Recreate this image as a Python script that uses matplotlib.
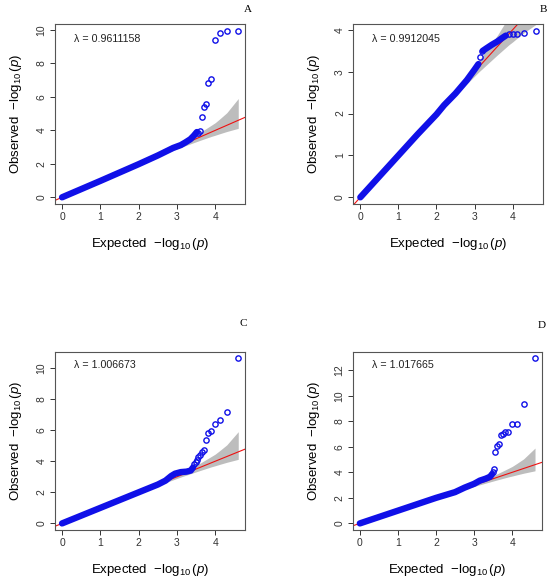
import numpy as np
import matplotlib
matplotlib.use("Agg")
import matplotlib.pyplot as plt

plt.rcParams['font.family'] = ['Liberation Sans', 'DejaVu Sans']
plt.rcParams['mathtext.fontset'] = 'custom'
plt.rcParams['mathtext.rm'] = 'Liberation Sans'
plt.rcParams['mathtext.it'] = 'Liberation Sans:italic'

# Valores leidos del grafico (esperado vs observado, -log10 p)
# parte densa de cada panel (se dibuja como banda continua)
a_line_x = [0, 0.5, 1, 1.5, 2, 2.5, 2.9, 3.1, 3.22, 3.35, 3.44, 3.52]
a_line_y = [0, 0.49, 0.98, 1.48, 1.98, 2.5, 2.95, 3.12, 3.28, 3.47, 3.68, 3.9]
# puntos sueltos de la cola
a_pts_x = [4.6, 4.3, 4.12, 4.0, 3.9, 3.82, 3.75, 3.7, 3.65, 3.6, 3.56]
a_pts_y = [9.96, 9.95, 9.82, 9.42, 7.05, 6.85, 5.59, 5.37, 4.77, 3.99, 3.85]

b_line_x = [0, 0.5, 1, 1.5, 2, 2.2, 2.5, 2.8, 3.0, 3.1]
b_line_y = [0, 0.5, 1.0, 1.5, 1.98, 2.2, 2.48, 2.8, 3.05, 3.18]
b_line2_x = [3.22, 3.3, 3.45, 3.6, 3.72, 3.82]
b_line2_y = [3.5, 3.55, 3.64, 3.72, 3.8, 3.86]
b_pts_x = [4.6, 4.3, 4.12, 4.0, 3.9, 3.15, 3.2]
b_pts_y = [3.98, 3.93, 3.91, 3.9, 3.9, 3.35, 3.5]

c_line_x = [0, 0.5, 1, 1.5, 2, 2.5, 2.7, 2.85, 2.95, 3.1, 3.25, 3.36, 3.42]
c_line_y = [0, 0.5, 1.0, 1.5, 2.0, 2.5, 2.75, 3.05, 3.2, 3.3, 3.33, 3.4, 3.6]
c_pts_x = [4.6, 4.3, 4.12, 4.0, 3.9, 3.82, 3.75, 3.7, 3.65, 3.6, 3.56, 3.52, 3.49, 3.45]
c_pts_y = [10.62, 7.15, 6.64, 6.38, 5.92, 5.83, 5.34, 4.72, 4.6, 4.38, 4.25, 4.1, 3.95, 3.8]

d_line_x = [0, 0.5, 1, 1.5, 2, 2.5, 2.75, 3.0, 3.15, 3.3, 3.42, 3.47]
d_line_y = [0, 0.5, 1.0, 1.5, 2.0, 2.45, 2.8, 3.1, 3.35, 3.5, 3.65, 3.85]
d_pts_x = [4.6, 4.3, 4.12, 4.0, 3.9, 3.82, 3.75, 3.7, 3.65, 3.6, 3.56, 3.52, 3.49]
d_pts_y = [12.93, 9.36, 7.81, 7.76, 7.19, 7.14, 6.98, 6.93, 6.21, 6.1, 5.59, 4.24, 4.05]

# banda de confianza (gris), igual en los cuatro paneles
band_x = [0, 2.6, 3.12, 3.6, 3.9, 4.0, 4.12, 4.3, 4.6]
band_lo = [0, 2.53, 3.0, 3.4, 3.64, 3.71, 3.8, 3.93, 4.12]
band_hi = [0, 2.68, 3.27, 3.87, 4.31, 4.46, 4.69, 5.05, 5.9]

lambdas = ['0.9611158', '0.9912045', '1.006673', '1.017665']
letters = ['A', 'B', 'C', 'D']
yticks = [[0, 2, 4, 6, 8, 10], [0, 1, 2, 3, 4], [0, 2, 4, 6, 8, 10], [0, 2, 4, 6, 8, 10, 12]]

paneles = [
    ([a_line_x], [a_line_y], a_pts_x, a_pts_y),
    ([b_line_x, b_line2_x], [b_line_y, b_line2_y], b_pts_x, b_pts_y),
    ([c_line_x], [c_line_y], c_pts_x, c_pts_y),
    ([d_line_x], [d_line_y], d_pts_x, d_pts_y),
]

posiciones = [[0.100, 0.6477, 0.346, 0.311],
              [0.6424, 0.6477, 0.344, 0.311],
              [0.100, 0.0846, 0.346, 0.308],
              [0.6415, 0.0846, 0.344, 0.308]]

azul = '#1010e8'

fig = plt.figure(figsize=(5.5, 5.79), dpi=100)

for k in range(4):
    lx, ly, px, py = paneles[k]
    ax = fig.add_axes(posiciones[k])

    allx = sum(lx, []) + px
    ally = sum(ly, []) + py
    rx = max(allx) - min(allx)
    ry = max(ally) - min(ally)
    ax.set_xlim(min(allx) - 0.04 * rx, max(allx) + 0.04 * rx)
    ax.set_ylim(min(ally) - 0.04 * ry, max(ally) + 0.04 * ry)

    ax.fill_between(band_x, band_lo, band_hi, color='#bdbdbd', lw=0, zorder=1)
    ax.axline((0, 0), slope=1, color='#ee1111', lw=0.8, zorder=2)

    for xs, ys in zip(lx, ly):
        ax.plot(xs, ys, color=azul, lw=4.6, solid_capstyle='round',
                solid_joinstyle='round', zorder=3)
    ax.plot(px, py, 'o', mfc='none', mec=azul, ms=3.8, mew=1.0, zorder=4)

    ax.set_xticks([0, 1, 2, 3, 4])
    ax.set_yticks(yticks[k])
    ax.tick_params(direction='out', length=3.5, width=0.7, colors='#333333',
                   labelsize=7.5, pad=2.5)
    for lab in ax.get_yticklabels():
        lab.set_rotation(90)
        lab.set_va('center')
    for sp in ax.spines.values():
        sp.set_color('#555555')
        sp.set_linewidth(0.8)

    ax.set_xlabel(r'Expected  $-\log_{10}(p)$', fontsize=9.5, labelpad=10)
    ax.set_ylabel(r'Observed  $-\log_{10}(p)$', fontsize=9.5, labelpad=9)

    ax.text(0.10, 0.915 if k < 2 else 0.925, '\u03bb = ' + lambdas[k],
            transform=ax.transAxes, fontsize=7.7, va='center', ha='left',
            color='#222222')

# letras de los paneles
letra_pos = [(248, 10), (543, 10), (243, 324), (542, 325)]
for k in range(4):
    fig.text(letra_pos[k][0] / 550, 1 - letra_pos[k][1] / 579, letters[k],
             family='Liberation Serif', fontsize=8, ha='center', va='center')

fig.savefig('out.png', dpi=100)
